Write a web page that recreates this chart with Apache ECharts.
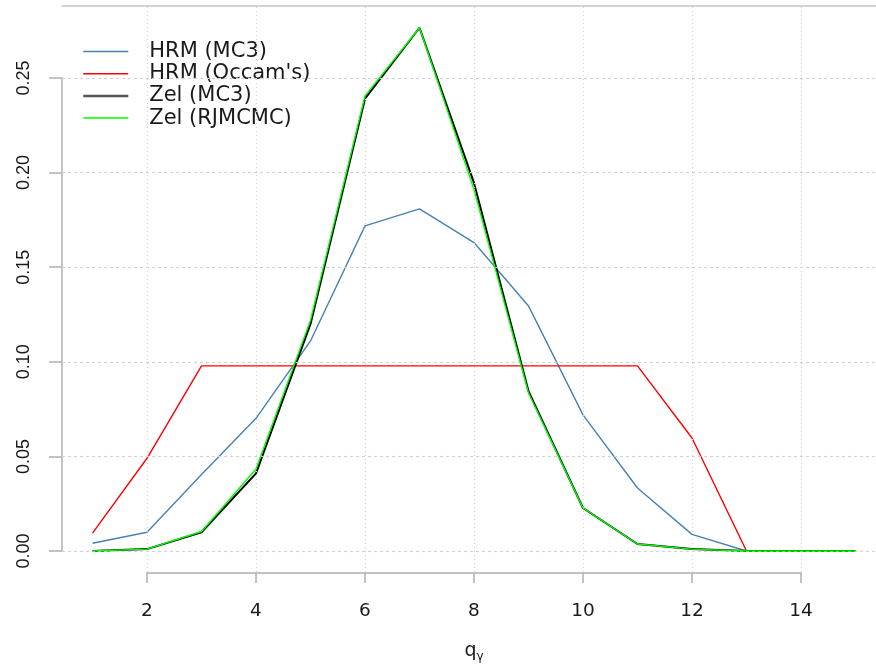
<!DOCTYPE html>
<html>
<head>
<meta charset="utf-8">
<script src="https://cdn.jsdelivr.net/npm/echarts@6/dist/echarts.min.js"></script>
<style>
html,body{margin:0;padding:0;background:#fff;}
#main{width:876px;height:664px;}
</style>
</head>
<body>
<div id="main"></div>
<script>
// ---- data ----
const qValues = [1,2,3,4,5,6,7,8,9,10,11,12,13,14,15];
const hrmMC3 = [0.0041,0.0099,0.0404,0.0701,0.111,0.1718,0.1808,0.163,0.1295,0.0719,0.0333,0.0088,0.0];
const hrmOccam = [0.0094,0.049,0.0978,0.0978,0.0978,0.0978,0.0978,0.0978,0.0978,0.0978,0.0978,0.0597,0.0];
const zelMC3 = [0.0,0.001,0.0099,0.041,0.120,0.239,0.2765,0.1945,0.0845,0.0227,0.0037,0.001,0.0,0.0,0.0];
const zelRJ = [0.0,0.001,0.0103,0.0433,0.122,0.2405,0.2765,0.191,0.0835,0.0227,0.0037,0.001,0.0,0.0,0.0];
const xTicks = [2,4,6,8,10,12,14];
const yTicks = [0,0.05,0.10,0.15,0.20,0.25];
const seriesNames = ["HRM (MC3)","HRM (Occam's)","Zel (MC3)","Zel (RJMCMC)"];

function pairs(vals){ return vals.map((v,i)=>[qValues[i], v]); }

const chart = echarts.init(document.getElementById('main'));
const fontA = '"Liberation Sans", Arial, sans-serif';
const fontW = '"DejaVu Sans", sans-serif';
const txt = '#1a1a1a';

const gridLines = [];
xTicks.forEach(v=>gridLines.push({xAxis:v, lineStyle:{type:[1,3]}}));
yTicks.forEach(v=>gridLines.push({yAxis:v, lineStyle:{type:[3,3]}}));

chart.setOption({
  animation:false,
  backgroundColor:'#ffffff',
  grid:[
    {left:62, width:824, top:6, height:566, containLabel:false, outerBoundsMode:'none'},
    {left:147, width:654, top:78, height:473, containLabel:false, outerBoundsMode:'none'}
  ],
  xAxis:[
    {gridIndex:0, type:'value', min:0.44, max:15.56, position:'bottom',
     axisLine:{show:false}, axisTick:{show:false}, axisLabel:{show:false}, splitLine:{show:false}},
    {gridIndex:0, type:'value', min:0.44, max:15.56, position:'top',
     axisLine:{show:true, onZero:false, lineStyle:{color:'#c4c4c4', width:1.5}}, axisTick:{show:false}, axisLabel:{show:false}, splitLine:{show:false}},
    {gridIndex:1, type:'value', min:2, max:14, interval:2, position:'bottom', offset:22,
     axisLine:{show:true, onZero:false, lineStyle:{color:'#b0b0b0', width:1.5}},
     axisTick:{show:true, length:10, lineStyle:{color:'#b0b0b0', width:1.5}},
     axisLabel:{show:true, margin:29, color:txt, fontSize:18.5, fontFamily:fontW},
     splitLine:{show:false},
     name:'{q|q}{g|γ}', nameLocation:'middle', nameGap:66,
     nameTextStyle:{rich:{q:{fontSize:19, fontFamily:fontW, color:txt}, g:{fontSize:12, fontFamily:fontW, color:txt, padding:[12,0,0,0]}}}
    }
  ],
  yAxis:[
    {gridIndex:0, type:'value', min:-0.0111, max:0.288,
     axisLine:{show:false}, axisTick:{show:false}, axisLabel:{show:false}, splitLine:{show:false}},
    {gridIndex:1, type:'value', min:0, max:0.25, interval:0.05, offset:85,
     axisLine:{show:true, onZero:false, lineStyle:{color:'#b0b0b0', width:1.5}},
     axisTick:{show:true, length:13, lineStyle:{color:'#b0b0b0', width:1.5}},
     axisLabel:{show:true, rotate:90, margin:29, color:txt, fontSize:18, fontFamily:fontA,
       formatter:v=>v.toFixed(2)},
     splitLine:{show:false}}
  ],
  legend:{
    orient:'vertical', left:82, top:41, padding:0, itemWidth:45, itemHeight:14, itemGap:1.2,
    itemStyle:{opacity:0},
    data:[
      {name:seriesNames[0], lineStyle:{width:1.5}},
      {name:seriesNames[1], lineStyle:{width:1.5}},
      {name:seriesNames[2], lineStyle:{width:2.5, color:'#555555'}},
      {name:seriesNames[3], lineStyle:{width:1.5}}
    ],
    textStyle:{fontSize:21, lineHeight:20, fontFamily:fontW, color:txt, padding:[0,0,0,16]}
  },
  series:[
    {name:'grid', type:'line', xAxisIndex:0, yAxisIndex:0, data:[], z:1, silent:true,
     markLine:{silent:true, symbol:['none','none'], label:{show:false},
       lineStyle:{color:'#d2d2d2', width:1.2}, data:gridLines}},
    {name:seriesNames[0], type:'line', xAxisIndex:0, yAxisIndex:0, data:pairs(hrmMC3), symbol:'none',
     lineStyle:{color:'#4682B4', width:1.4}, itemStyle:{color:'#4682B4'}, z:3},
    {name:seriesNames[1], type:'line', xAxisIndex:0, yAxisIndex:0, data:pairs(hrmOccam), symbol:'none',
     lineStyle:{color:'#ff0000', width:1.4}, itemStyle:{color:'#ff0000'}, z:3},
    {name:seriesNames[2], type:'line', xAxisIndex:0, yAxisIndex:0, data:pairs(zelMC3), symbol:'none',
     lineStyle:{color:'#000000', width:2}, itemStyle:{color:'#555555'}, z:4},
    {name:seriesNames[3], type:'line', xAxisIndex:0, yAxisIndex:0, data:pairs(zelRJ), symbol:'none',
     lineStyle:{color:'#00ff00', width:1.4}, itemStyle:{color:'#00ff00'}, z:5}
  ]
});
</script>
</body>
</html>
